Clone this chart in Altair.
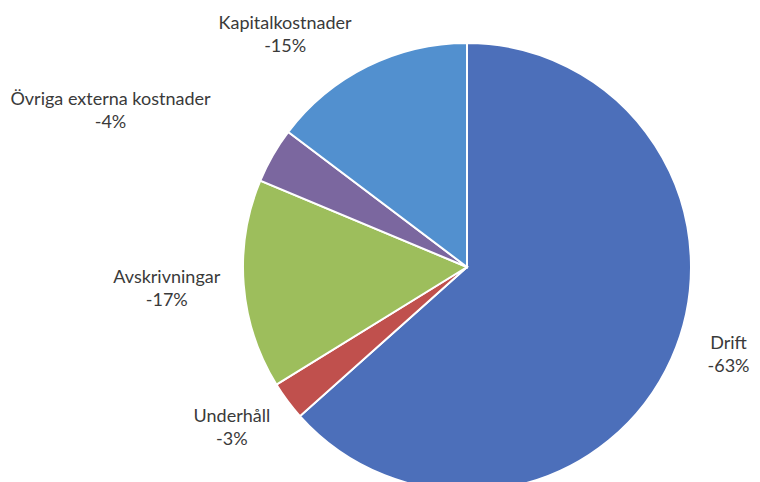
import altair as alt
import pandas as pd

# Data
categories = ["Drift", "Underhåll", "Avskrivningar", "Övriga externa kostnader", "Kapitalkostnader"]
shares = [63.4, 2.8, 15.1, 4.0, 14.7]          # slice sizes measured from the angles
label_pct = ["-63%", "-3%", "-17%", "-4%", "-15%"]  # printed labels
colors = ["#4C6FBA", "#C0504D", "#9DBE5C", "#7B679F", "#5290CF"]

# label placement (annotation only): distance from centre and angular nudge in degrees
label_radius = [276, 285, 301, 389, 295]
label_nudge = [-5.5, 2.3, 0.4, -6.3, -11.6]

df = pd.DataFrame({
    "cat": categories,
    "value": shares,
    "idx": list(range(len(categories))),
    "label": [f"{c}\n{p}" for c, p in zip(categories, label_pct)],
    "lr": label_radius,
    "nudge": label_nudge,
})

cx, cy, R = 459, 259, 224

base = alt.Chart(df)

pie = base.mark_arc(radius=R, stroke="white", strokeWidth=2).encode(
    x=alt.value(cx),
    y=alt.value(cy),
    theta=alt.Theta("value:Q", stack=True),
    color=alt.Color("cat:N", scale=alt.Scale(domain=categories, range=colors), legend=None),
    order=alt.Order("idx:Q"),
)

labels = base.transform_joinaggregate(
    total="sum(value)"
).transform_window(
    cum="sum(value)", sort=[alt.SortField("idx")], frame=[None, 0]
).transform_calculate(
    mid="(datum.cum - datum.value/2) / datum.total * 2 * PI + datum.nudge * PI / 180"
).mark_text(
    font="Lato", fontSize=18, color="#3a3a3a", lineBreak="\n", lineHeight=23,
    align="center", baseline="middle", dy=-11,
).encode(
    x=alt.value(cx),
    y=alt.value(cy),
    theta=alt.Theta("mid:Q", scale=None),
    radius=alt.Radius("lr:Q", scale=None),
    text="label:N",
)

chart = (pie + labels).properties(
    width=744, height=474, padding=0,
    autosize=alt.AutoSizeParams(type="none"),
    background="white",
).configure_view(stroke=None)

chart.save("out.html", embed_options={"renderer": "svg", "actions": False})
